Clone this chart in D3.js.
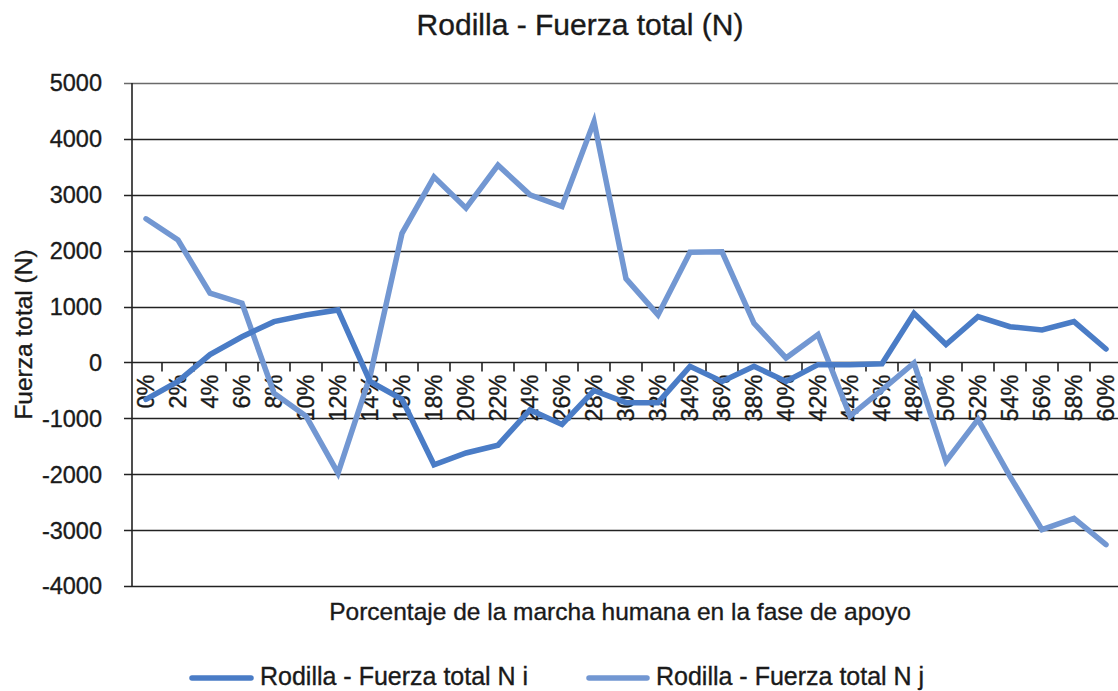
<!DOCTYPE html>
<html>
<head>
<meta charset="utf-8">
<script src="https://cdn.jsdelivr.net/npm/d3@7"></script>
<style>
  html, body { margin: 0; padding: 0; background: #fff; }
  svg { display: block; font-family: "Liberation Sans", Arial, sans-serif; }
  svg text { stroke: #1a1a1a; stroke-width: 0.35px; }
</style>
</head>
<body>
<svg id="chart" width="1118" height="691"></svg>
<script>
const categories = ["0%","2%","4%","6%","8%","10%","12%","14%","16%","18%","20%","22%","24%","26%","28%","30%","32%","34%","36%","38%","40%","42%","44%","46%","48%","50%","52%","54%","56%","58%","60%"];
const seriesI = [-660,-340,140,460,730,850,940,-340,-660,-1830,-1620,-1480,-850,-1110,-500,-720,-720,-70,-340,-70,-340,-40,-40,-25,880,320,820,640,580,730,240];
const seriesJ = [2570,2190,1240,1060,-550,-960,-1980,-250,2310,3320,2760,3530,3000,2790,4310,1500,850,1970,1980,700,80,500,-960,-490,-10,-1770,-1020,-2040,-2990,-2790,-3260];
const yTicks = [5000,4000,3000,2000,1000,0,-1000,-2000,-3000,-4000];
const seriesNames = ["Rodilla - Fuerza total N i", "Rodilla - Fuerza total N j"];
const titleText = "Rodilla - Fuerza total (N)";
const xTitle = "Porcentaje de la marcha humana en la fase de apoyo";
const yTitle = "Fuerza total (N)";

(function () {
const colI = "#4a7cc6", colJ = "#7297d2", textCol = "#1a1a1a";
const svg = d3.select("#chart");
const pLeft = 132, pRight = 1122, pTop = 83, pBottom = 586;

const x = d3.scaleBand().domain(categories).range([130, pRight]);
const y = d3.scaleLinear().domain([-4000, 5000]).range([pBottom, pTop]);
const cx = c => x(c) + x.bandwidth() / 2;

// gridlines
svg.append("g").selectAll("line").data(yTicks).join("line")
  .attr("x1", pLeft - 8).attr("x2", 1118)
  .attr("y1", d => Math.round(y(d)) + 0.5).attr("y2", d => Math.round(y(d)) + 0.5)
  .attr("stroke", d => d === 5000 ? "#6a6a6a" : "#222")
  .attr("stroke-width", 1.6);

// left axis line
svg.append("line").attr("x1", pLeft).attr("x2", pLeft)
  .attr("y1", pTop).attr("y2", pBottom + 1)
  .attr("stroke", "#222").attr("stroke-width", 1.6);

// y tick labels
svg.append("g").selectAll("text").data(yTicks).join("text")
  .attr("x", 102).attr("y", d => y(d)).attr("dy", "0.36em")
  .attr("text-anchor", "end").attr("font-size", 23.5).attr("fill", textCol)
  .text(d => d);

// x ticks at zero line between categories
const y0 = Math.round(y(0)) + 0.5;
svg.append("g").selectAll("line").data(categories.slice(1)).join("line")
  .attr("x1", d => x(d)).attr("x2", d => x(d))
  .attr("y1", y0).attr("y2", y0 + 9)
  .attr("stroke", "#222").attr("stroke-width", 1.6);

// x tick labels (rotated)
svg.append("g").selectAll("text").data(categories).join("text")
  .attr("transform", d => `translate(${cx(d) + 8},${y0 + 12}) rotate(-90)`)
  .attr("text-anchor", "end").attr("font-size", 23.5).attr("fill", textCol)
  .text(d => d);

// lines
const line = d3.line().x((d, i) => cx(categories[i])).y(d => y(d));
svg.append("path").datum(seriesJ).attr("d", line)
  .attr("fill", "none").attr("stroke", colJ).attr("stroke-width", 5.5)
  .attr("stroke-linejoin", "miter").attr("stroke-linecap", "round");
svg.append("path").datum(seriesI).attr("d", line)
  .attr("fill", "none").attr("stroke", colI).attr("stroke-width", 5.5)
  .attr("stroke-linejoin", "miter").attr("stroke-linecap", "round");

// title
svg.append("text").attr("x", 580).attr("y", 35).attr("text-anchor", "middle")
  .attr("font-size", 30).attr("fill", textCol).text(titleText);

// axis titles
svg.append("text").attr("x", 620).attr("y", 620).attr("text-anchor", "middle")
  .attr("font-size", 24.5).attr("fill", textCol).text(xTitle);
svg.append("text").attr("transform", `translate(32,${(pTop + pBottom) / 2}) rotate(-90)`)
  .attr("text-anchor", "middle").attr("font-size", 24.5).attr("fill", textCol).text(yTitle);

// legend
const legend = [
  { name: seriesNames[0], color: colI, x1: 192, x2: 251, tx: 260 },
  { name: seriesNames[1], color: colJ, x1: 589, x2: 647, tx: 656 }
];
const lg = svg.append("g").selectAll("g").data(legend).join("g");
lg.append("line").attr("x1", d => d.x1).attr("x2", d => d.x2)
  .attr("y1", 678).attr("y2", 678).attr("stroke", d => d.color)
  .attr("stroke-width", 5.5).attr("stroke-linecap", "round");
lg.append("text").attr("x", d => d.tx).attr("y", 685)
  .attr("font-size", 25).attr("fill", textCol).text(d => d.name);
})();
</script>
</body>
</html>
